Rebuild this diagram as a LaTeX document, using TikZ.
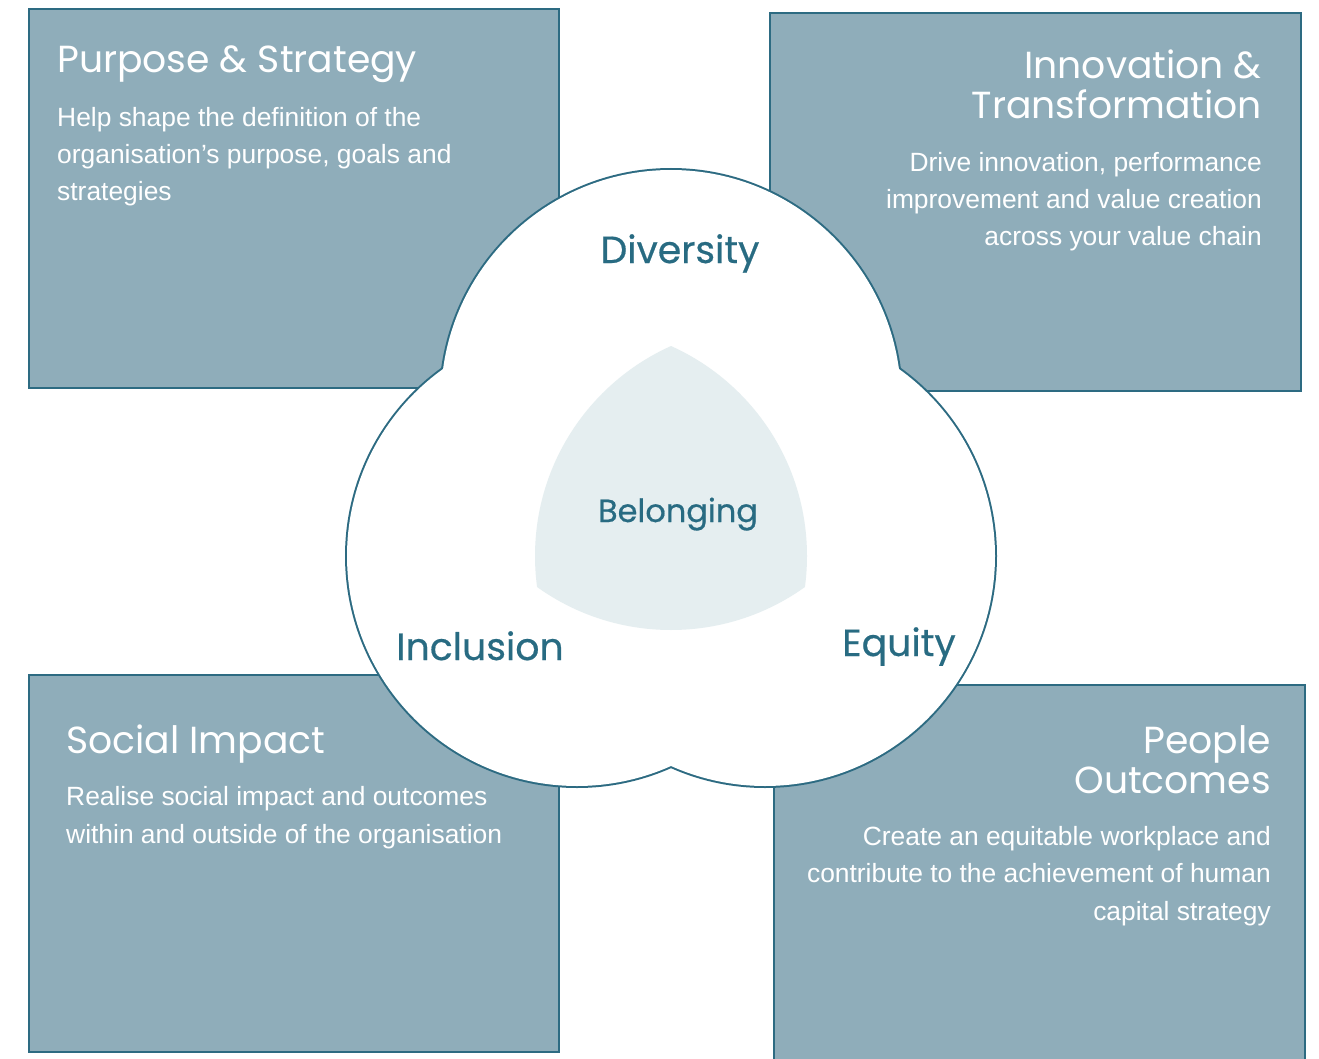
\documentclass[tikz,border=0pt]{standalone}
\usepackage{fontspec}
\setmainfont{Liberation Sans}
\newfontfamily\headfont{Poppins}
\newfontfamily\labelfont[FakeBold=0.5]{Poppins}
\newfontfamily\bodyfont{Liberation Sans}
\definecolor{panelfill}{HTML}{8FADBA}
\definecolor{edge}{HTML}{2D6B82}
\definecolor{labeltext}{HTML}{286B82}
\definecolor{corefill}{HTML}{E5EEF0}
\begin{document}
\begin{tikzpicture}[x=1pt,y=-1pt,
  panel/.style={fill=panelfill, draw=edge, line width=2pt},
  title/.style={font=\headfont\fontsize{37.7}{40}\selectfont, text=white, inner sep=0pt},
  body/.style={font=\bodyfont\fontsize{26.4}{37.3}\selectfont, text=white, inner sep=0pt},
  lbl/.style={font=\labelfont\fontsize{37.8}{40}\selectfont, text=labeltext, inner sep=0pt},
  lblsmall/.style={font=\labelfont\fontsize{32}{36}\selectfont, text=labeltext, inner sep=0pt}]
\useasboundingbox (0,0) rectangle (1319,1059);
\clip (0,0) rectangle (1319,1059);
\fill[white] (0,0) rectangle (1319,1059);

% four quadrant panels
\draw[panel] (29,9) rectangle (559,388);
\draw[panel] (770,13) rectangle (1301,391);
\draw[panel] (29,675) rectangle (559,1052);
\draw[panel] (774,685) rectangle (1305,1080);

% panel texts (multi-line nodes sit on the baseline of their last line)
\node[title, anchor=base west] (t1) at (57,73) {Purpose \& Strategy};
\node[body, anchor=base west, align=left] (b1) at (57,201)
  {Help shape the definition of the\\organisation’s purpose, goals and\\strategies};

\node[title, anchor=base east, align=right] (t2) at (1262,119) {Innovation \&\\Transformation};
\node[body, anchor=base east, align=right] (b2) at (1262,246)
  {Drive innovation, performance\\improvement and value creation\\across your value chain};

\node[title, anchor=base west] (t3) at (66,753) {Social Impact};
\node[body, anchor=base west, align=left] (b3) at (66,843)
  {Realise social impact and outcomes\\within and outside of the organisation};

\node[title, anchor=base east, align=right] (t4) at (1271,793) {People\\Outcomes};
\node[body, anchor=base east, align=right] (b4) at (1271,920)
  {Create an equitable workplace and\\contribute to the achievement of human\\capital strategy};

% three overlapping circles
\coordinate (ct) at (671,400);
\coordinate (cl) at (577,556);
\coordinate (cr) at (765,556);
\foreach \c in {ct,cl,cr} \draw[edge, line width=4pt] (\c) circle (230pt);
\foreach \c in {ct,cl,cr} \fill[white] (\c) circle (230pt);

% common core of the three circles
\begin{scope}
  \clip (ct) circle (230pt);
  \clip (cl) circle (230pt);
  \fill[corefill] (cr) circle (230pt);
\end{scope}

% circle labels
\node[lbl, anchor=base] (div) at (680,263) {Diversity};
\node[lblsmall, anchor=base] (bel) at (678,522) {Belonging};
\node[lbl, anchor=base] (inc) at (480,660) {Inclusion};
\node[lbl, anchor=base] (equ) at (899,656) {Equity};
\end{tikzpicture}
\end{document}
